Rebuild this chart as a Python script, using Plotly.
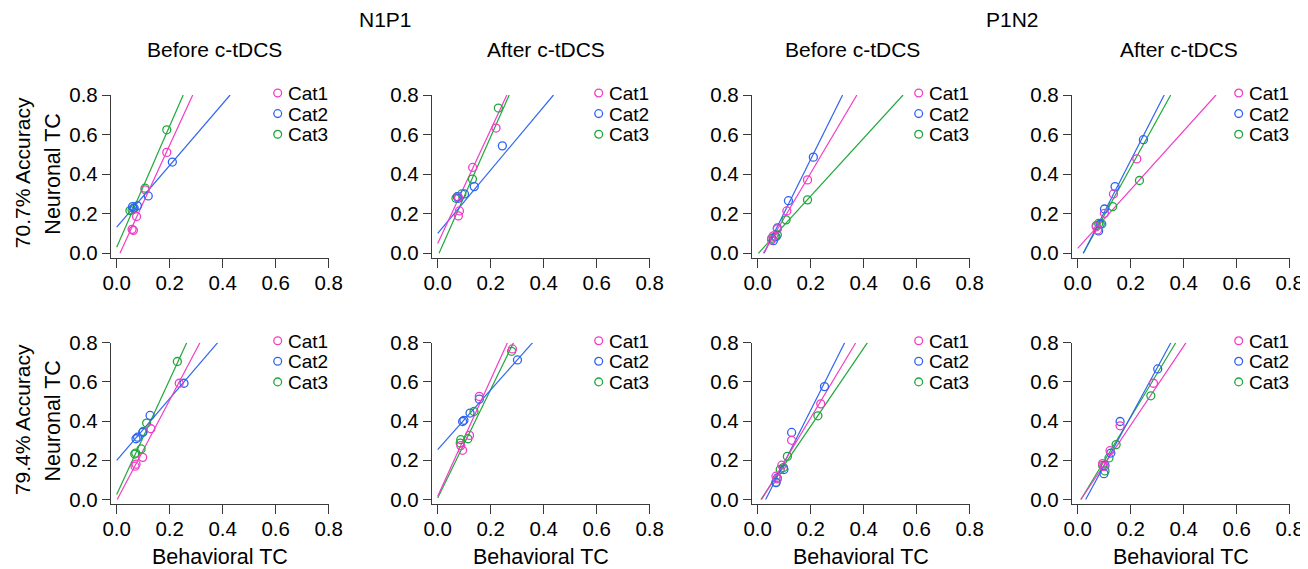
import plotly.graph_objects as go

W, H = 1308, 569          # target picture size
BODY = 8                  # default page body margin of the html page
FIG_W, FIG_H = W - BODY, H - BODY

CATEGORIES = ["Cat1", "Cat2", "Cat3"]
COLORS = ["#F23CC6", "#2E64F0", "#1FA83A"]
PHASES = ["Before c-tDCS", "After c-tDCS", "Before c-tDCS", "After c-tDCS"]
COMPONENTS = ["N1P1", "P1N2"]
ACCURACIES = ["70.7% Accuracy", "79.4% Accuracy"]
TICKS = [0.0, 0.2, 0.4, 0.6, 0.8]

# ---- Row 1: 70.7% accuracy ----
N1P1_BEFORE_707_X = [[0.058, 0.063, 0.075, 0.107, 0.189],
                     [0.060, 0.066, 0.078, 0.119, 0.210],
                     [0.050, 0.058, 0.063, 0.107, 0.189]]
N1P1_BEFORE_707_Y = [[0.121, 0.116, 0.186, 0.321, 0.510],
                     [0.236, 0.228, 0.240, 0.290, 0.461],
                     [0.216, 0.219, 0.228, 0.329, 0.624]]
N1P1_BEFORE_707_SLOPE = [2.914, 1.561, 3.064]
N1P1_BEFORE_707_ICPT = [-0.036, 0.132, 0.031]

N1P1_AFTER_707_X = [[0.078, 0.082, 0.078, 0.132, 0.220],
                    [0.074, 0.078, 0.101, 0.138, 0.244],
                    [0.069, 0.075, 0.091, 0.131, 0.229]]
N1P1_AFTER_707_Y = [[0.189, 0.214, 0.283, 0.434, 0.633],
                    [0.286, 0.278, 0.300, 0.337, 0.543],
                    [0.278, 0.286, 0.300, 0.375, 0.734]]
N1P1_AFTER_707_SLOPE = [2.874, 1.600, 3.020]
N1P1_AFTER_707_ICPT = [0.050, 0.101, -0.015]

P1N2_BEFORE_707_X = [[0.052, 0.059, 0.074, 0.110, 0.188],
                     [0.059, 0.069, 0.074, 0.116, 0.210],
                     [0.053, 0.065, 0.074, 0.107, 0.188]]
P1N2_BEFORE_707_Y = [[0.068, 0.088, 0.123, 0.214, 0.371],
                     [0.064, 0.084, 0.128, 0.266, 0.486],
                     [0.076, 0.084, 0.093, 0.169, 0.270]]
P1N2_BEFORE_707_SLOPE = [2.266, 2.700, 1.466]
P1N2_BEFORE_707_ICPT = [-0.048, -0.065, -0.004]

P1N2_AFTER_707_X = [[0.070, 0.075, 0.101, 0.135, 0.223],
                    [0.079, 0.085, 0.101, 0.141, 0.248],
                    [0.070, 0.079, 0.091, 0.132, 0.233]]
P1N2_AFTER_707_Y = [[0.134, 0.118, 0.202, 0.300, 0.477],
                    [0.113, 0.148, 0.224, 0.337, 0.574],
                    [0.140, 0.151, 0.148, 0.236, 0.368]]
P1N2_AFTER_707_SLOPE = [1.485, 2.620, 2.424]
P1N2_AFTER_707_ICPT = [0.025, -0.055, -0.051]

# ---- Row 2: 79.4% accuracy ----
N1P1_BEFORE_794_X = [[0.069, 0.073, 0.098, 0.129, 0.236],
                     [0.073, 0.079, 0.098, 0.126, 0.254],
                     [0.068, 0.072, 0.092, 0.100, 0.113, 0.229]]
N1P1_BEFORE_794_Y = [[0.170, 0.180, 0.215, 0.361, 0.593],
                     [0.310, 0.318, 0.342, 0.429, 0.593],
                     [0.232, 0.237, 0.258, 0.347, 0.390, 0.704]]
N1P1_BEFORE_794_SLOPE = [2.564, 1.575, 2.935]
N1P1_BEFORE_794_ICPT = [-0.005, 0.200, 0.025]

N1P1_AFTER_794_X = [[0.094, 0.087, 0.120, 0.157, 0.282],
                    [0.094, 0.099, 0.122, 0.157, 0.301],
                    [0.085, 0.087, 0.114, 0.137, 0.279]]
N1P1_AFTER_794_Y = [[0.251, 0.275, 0.327, 0.526, 0.768],
                    [0.398, 0.404, 0.441, 0.512, 0.712],
                    [0.288, 0.305, 0.310, 0.449, 0.756]]
N1P1_AFTER_794_SLOPE = [2.976, 1.525, 2.770]
N1P1_AFTER_794_ICPT = [0.017, 0.254, 0.008]

P1N2_BEFORE_794_X = [[0.069, 0.074, 0.091, 0.128, 0.238],
                     [0.069, 0.074, 0.099, 0.128, 0.252],
                     [0.069, 0.085, 0.097, 0.112, 0.227]]
P1N2_BEFORE_794_Y = [[0.119, 0.105, 0.175, 0.302, 0.488],
                     [0.086, 0.110, 0.153, 0.342, 0.576],
                     [0.088, 0.153, 0.163, 0.220, 0.427]]
P1N2_BEFORE_794_SLOPE = [2.254, 2.685, 1.990]
P1N2_BEFORE_794_ICPT = [-0.034, -0.081, -0.024]

P1N2_AFTER_794_X = [[0.094, 0.099, 0.122, 0.160, 0.286],
                    [0.099, 0.103, 0.125, 0.160, 0.302],
                    [0.094, 0.103, 0.118, 0.145, 0.276]]
P1N2_AFTER_794_Y = [[0.183, 0.169, 0.249, 0.376, 0.593],
                    [0.132, 0.174, 0.237, 0.398, 0.666],
                    [0.174, 0.146, 0.212, 0.280, 0.529]]
P1N2_AFTER_794_SLOPE = [2.015, 2.490, 2.235]
P1N2_AFTER_794_ICPT = [-0.024, -0.075, -0.027]

PANELS = [
    [(N1P1_BEFORE_707_X, N1P1_BEFORE_707_Y, N1P1_BEFORE_707_SLOPE, N1P1_BEFORE_707_ICPT),
     (N1P1_AFTER_707_X, N1P1_AFTER_707_Y, N1P1_AFTER_707_SLOPE, N1P1_AFTER_707_ICPT),
     (P1N2_BEFORE_707_X, P1N2_BEFORE_707_Y, P1N2_BEFORE_707_SLOPE, P1N2_BEFORE_707_ICPT),
     (P1N2_AFTER_707_X, P1N2_AFTER_707_Y, P1N2_AFTER_707_SLOPE, P1N2_AFTER_707_ICPT)],
    [(N1P1_BEFORE_794_X, N1P1_BEFORE_794_Y, N1P1_BEFORE_794_SLOPE, N1P1_BEFORE_794_ICPT),
     (N1P1_AFTER_794_X, N1P1_AFTER_794_Y, N1P1_AFTER_794_SLOPE, N1P1_AFTER_794_ICPT),
     (P1N2_BEFORE_794_X, P1N2_BEFORE_794_Y, P1N2_BEFORE_794_SLOPE, P1N2_BEFORE_794_ICPT),
     (P1N2_AFTER_794_X, P1N2_AFTER_794_Y, P1N2_AFTER_794_SLOPE, P1N2_AFTER_794_ICPT)],
]

# ---- layout geometry (pixels of the final picture) ----
FONT = "Arial, 'Liberation Sans', Helvetica, sans-serif"
COL_X0 = [116.7, 437.7, 757.7, 1077.7]     # pixel of x = 0
PX_PER_X = 265.0
ROW_YTOP = [95.0, 342.7]                    # pixel of y = 0.8
ROW_Y0 = [253.3, 499.5]                     # pixel of y = 0
XMIN, XMAX = -0.022, 0.8
YMIN, YMAX = -0.025, 0.8


def fx(px):
    return (px - BODY) / FIG_W


def fy(py):
    return 1 - (py - BODY) / FIG_H


fig = go.Figure()
layout_axes = {}
shapes = []
annotations = []

for r in range(2):
    ppy = (ROW_Y0[r] - ROW_YTOP[r]) / 0.8
    ybot = ROW_Y0[r] - YMIN * ppy
    for c in range(4):
        idx = r * 4 + c + 1
        xa = "x" if idx == 1 else f"x{idx}"
        ya = "y" if idx == 1 else f"y{idx}"
        xl = COL_X0[c] + XMIN * PX_PER_X
        xr = COL_X0[c] + XMAX * PX_PER_X
        axis_common = dict(
            showline=True, linecolor="#3a3a3a", linewidth=1,
            ticks="outside", tickcolor="#3a3a3a", tickwidth=1,
            showgrid=False, zeroline=False, automargin=False,
            tickvals=TICKS, tickformat=".1f",
            tickfont=dict(family=FONT, size=20.5, color="black"),
            fixedrange=True,
        )
        layout_axes["xaxis" if idx == 1 else f"xaxis{idx}"] = dict(
            axis_common, domain=[fx(xl), fx(xr)], range=[XMIN, XMAX],
            anchor=ya, ticklen=9, ticklabelstandoff=-3,
        )
        layout_axes["yaxis" if idx == 1 else f"yaxis{idx}"] = dict(
            axis_common, domain=[fy(ybot), fy(ROW_YTOP[r])], range=[YMIN, YMAX],
            anchor=xa, ticklen=8,
        )
        xs, ys, slopes, icpts = PANELS[r][c]
        for k in [2, 1, 0]:
            m, b = slopes[k], icpts[k]
            x_start = max(0.0, -b / m)
            x_end = (YMAX - b) / m
            fig.add_trace(go.Scatter(
                x=[x_start, x_end], y=[m * x_start + b, m * x_end + b],
                mode="lines", line=dict(color=COLORS[k], width=1.2),
                xaxis=xa, yaxis=ya, showlegend=False, hoverinfo="skip",
            ))
        for k in [2, 1, 0]:
            fig.add_trace(go.Scatter(
                x=xs[k], y=ys[k], mode="markers", name=CATEGORIES[k],
                marker=dict(symbol="circle-open", size=8, color=COLORS[k],
                            line=dict(width=1.3, color=COLORS[k])),
                xaxis=xa, yaxis=ya, showlegend=False,
            ))
        # per-panel legend
        for k in range(3):
            cy = ROW_YTOP[r] - 2 + 20.6 * k
            cx = COL_X0[c] + 161
            rad = 3.9
            shapes.append(dict(
                type="circle", xref="paper", yref="paper",
                x0=fx(cx - rad), x1=fx(cx + rad), y0=fy(cy + rad), y1=fy(cy - rad),
                line=dict(color=COLORS[k], width=1.3),
            ))
            annotations.append(dict(
                text=CATEGORIES[k], xref="paper", yref="paper",
                x=fx(COL_X0[c] + 169), y=fy(cy + 0.5), xanchor="left", yanchor="middle",
                showarrow=False, font=dict(family=FONT, size=19, color="black"),
            ))
        if r == 1:
            annotations.append(dict(
                text="Behavioral TC", xref="paper", yref="paper",
                x=fx(COL_X0[c] + 103), y=fy(557),
                xanchor="center", yanchor="middle", showarrow=False,
                font=dict(family=FONT, size=21.5, color="black"),
            ))
    # row titles
    mid = (ROW_YTOP[r] + ROW_Y0[r]) / 2
    annotations.append(dict(
        text="Neuronal TC", xref="paper", yref="paper", x=fx(53.5), y=fy(mid),
        xanchor="center", yanchor="middle", textangle=-90, showarrow=False,
        font=dict(family=FONT, size=21.5, color="black"),
    ))
    annotations.append(dict(
        text=ACCURACIES[r], xref="paper", yref="paper", x=fx(22), y=fy(mid - 1),
        xanchor="center", yanchor="middle", textangle=-90, showarrow=False,
        font=dict(family=FONT, size=21, color="black"),
    ))

# column / group headers
for name, px in zip(COMPONENTS, [385, 1012]):
    annotations.append(dict(
        text=name, xref="paper", yref="paper", x=fx(px), y=fy(20),
        xanchor="center", yanchor="middle", showarrow=False,
        font=dict(family=FONT, size=21, color="black"),
    ))
for name, px in zip(PHASES, [214, 546, 852, 1179]):
    annotations.append(dict(
        text=name, xref="paper", yref="paper", x=fx(px), y=fy(49),
        xanchor="center", yanchor="middle", showarrow=False,
        font=dict(family=FONT, size=21, color="black"),
    ))

fig.update_layout(
    width=FIG_W, height=FIG_H, autosize=False,
    margin=dict(l=0, r=0, t=0, b=0, pad=0, autoexpand=False),
    paper_bgcolor="white", plot_bgcolor="white",
    showlegend=False,
    shapes=shapes, annotations=annotations,
    **layout_axes,
)

fig.write_html("out.html", config={"displayModeBar": False})
